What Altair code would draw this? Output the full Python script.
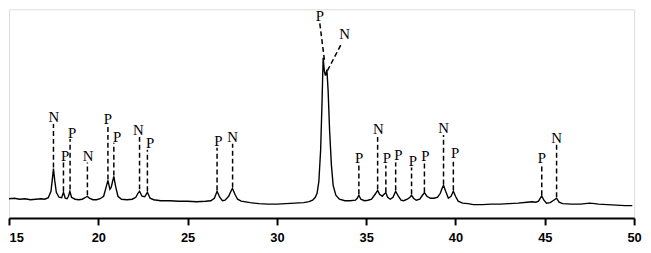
import altair as alt
import pandas as pd

# XRD trace: 2-theta (deg) and intensity (arbitrary units)
two_theta = [15.0, 15.3, 15.6, 15.9, 16.2, 16.5, 16.8, 17.0, 17.2, 17.35, 17.42, 17.49, 17.56, 17.65, 17.8,
             17.95, 18.05, 18.15, 18.25, 18.33, 18.41, 18.5, 18.7, 18.9, 19.1, 19.3, 19.39, 19.5, 19.7, 19.9,
             20.1, 20.3, 20.42, 20.54, 20.65, 20.72, 20.87, 20.97, 21.1, 21.3, 21.6, 21.9, 22.1, 22.22, 22.31,
             22.45, 22.6, 22.75, 22.9, 23.1, 23.5, 24.0, 24.5, 25.0, 25.5, 26.0, 26.3, 26.5, 26.65, 26.8,
             26.95, 27.1, 27.3, 27.4, 27.51, 27.65, 27.8, 28.0, 28.5, 29.0, 29.5, 30.0, 30.5, 31.0, 31.5,
             31.8, 32.0, 32.15, 32.25, 32.35, 32.45, 32.53, 32.59, 32.66, 32.72, 32.80, 32.87, 32.95, 33.05,
             33.15, 33.3, 33.5, 33.8, 34.1, 34.4, 34.5, 34.59, 34.7, 34.9, 35.1, 35.3, 35.5, 35.64, 35.75,
             35.9, 36.0, 36.1, 36.2, 36.35, 36.5, 36.65, 36.8, 36.95, 37.1, 37.3, 37.45, 37.54, 37.65, 37.8,
             38.0, 38.15, 38.26, 38.4, 38.6, 38.8, 39.0, 39.15, 39.25, 39.33, 39.45, 39.6, 39.75, 39.88, 40.0,
             40.15, 40.4, 40.7, 41.0, 41.5, 42.0, 42.5, 43.0, 43.5, 44.0, 44.3, 44.5, 44.65, 44.75, 44.83,
             44.95, 45.1, 45.3, 45.5, 45.66, 45.8, 46.0, 46.5, 47.0, 47.5, 47.8, 48.0, 48.5, 49.0, 49.5, 49.9]
intensity = [19.5, 20, 19, 19.5, 18.5, 19, 19.5, 19, 20.5, 27, 38, 50, 38, 26, 21,
             20.5, 26, 20, 19.5, 22, 27, 21, 19, 18.5, 19, 21, 22, 20, 18.5, 18.5,
             19.5, 22, 30, 38, 29, 31, 42, 32, 22, 19, 18.5, 19, 21, 25, 27,
             22, 21.5, 26, 20, 18.5, 17.5, 17.5, 17, 17, 16.5, 17, 17.5, 20, 27, 21,
             17.5, 18, 22, 26, 30, 24, 19, 17, 15.5, 14.5, 14, 14, 14.5, 15, 15.5,
             16.5, 18, 21, 25, 37, 69, 119, 162, 148, 144, 150, 128, 89, 54,
             33, 23, 19, 17.5, 17.5, 18, 20, 23, 19, 17.5, 18, 19, 24, 28, 24,
             22, 24, 25.7, 21, 19, 21, 27, 22, 18, 17.5, 19, 21, 23, 20, 18,
             19, 23, 25.7, 22, 20, 20, 21, 25, 30, 33, 27, 20, 22, 27, 22,
             17, 15, 14.5, 13.5, 13.5, 14, 14, 14.5, 15, 16, 16.5, 16, 17, 20, 22.3,
             18, 15, 15.5, 18, 20, 16, 14.5, 14, 14, 15, 14.5, 14, 13.5, 13, 12.5, 12.5]

# Peak annotations
peak_pos = [17.49, 18.05, 18.42, 19.39, 20.54, 20.87, 22.31, 22.75, 26.65, 27.52, 34.59, 35.64, 36.10,
            36.65, 37.54, 38.26, 39.33, 39.88, 44.83, 45.66, 32.66, 32.83]
peak_label = ["N", "P", "P", "N", "P", "P", "N", "P", "P", "N", "P", "N", "P",
              "P", "P", "P", "N", "P", "P", "N", "P", "N"]
line_bottom = [51, 27, 29, 23, 39, 43, 29, 27, 28, 31, 24, 29, 26,
               28, 24, 26, 34, 28, 23, 21, 160, 149]
line_top_x = [17.49, 18.05, 18.42, 19.39, 20.54, 20.87, 22.31, 22.75, 26.65, 27.52, 34.59, 35.64, 36.10,
              36.65, 37.54, 38.26, 39.33, 39.88, 44.83, 45.66, 32.40, 33.61]
line_top = [95, 57, 80, 56, 93, 76, 82, 69, 71, 75, 53, 84, 53,
            56, 51, 55, 84, 58, 54, 74, 197, 176]
label_x = [17.51, 18.14, 18.53, 19.43, 20.54, 21.05, 22.25, 22.90, 26.72, 27.52, 34.60, 35.68, 36.16,
           36.80, 37.61, 38.31, 39.33, 39.98, 44.83, 45.66, 32.40, 33.79]
label_y = [102.3, 62.3, 86.3, 63, 99.7, 82.3, 89, 75.7, 78.3, 82.3, 60.3, 90.3, 60.7,
           64, 58, 62.3, 90.7, 65.7, 60.7, 80.7, 204, 185.7]

x_ticks = [15, 20, 25, 30, 35, 40, 45, 50]

trace = pd.DataFrame({"tt": two_theta, "I": intensity})
ann = pd.DataFrame({"peak": peak_pos, "lab": peak_label, "yb": line_bottom,
                    "xt": line_top_x, "yt": line_top, "lx": label_x, "ly": label_y})

xs = alt.Scale(domain=[15, 50], nice=False, zero=False)
ys = alt.Scale(domain=[0, 211], nice=False, zero=False)

xaxis = alt.Axis(values=x_ticks, title=None, grid=False, tickSize=7, tickWidth=2, tickColor="black",
                 domainWidth=2, domainColor="black", labelFont="Liberation Sans", labelFontWeight="bold",
                 labelFontSize=13, labelColor="black", labelPadding=7,
                 labelAlign={"expr": "datum.value == 15 ? 'left' : 'center'"})

line = alt.Chart(trace).mark_line(color="black", strokeWidth=1.4).encode(
    x=alt.X("tt:Q", scale=xs, axis=xaxis),
    y=alt.Y("I:Q", scale=ys, axis=None),
)

rules = alt.Chart(ann).mark_rule(color="black", strokeWidth=1.5, strokeDash=[5, 3]).encode(
    x=alt.X("peak:Q", scale=xs),
    x2="xt:Q",
    y=alt.Y("yb:Q", scale=ys),
    y2="yt:Q",
)

labels = alt.Chart(ann).mark_text(font="Liberation Serif", fontSize=15, color="black",
                                  align="center", baseline="middle").encode(
    x=alt.X("lx:Q", scale=xs),
    y=alt.Y("ly:Q", scale=ys),
    text="lab:N",
)

chart = alt.layer(line, rules, labels).properties(
    width=632, height=211,
    autosize=alt.AutoSizeParams(type="none"),
    padding={"left": 1, "top": 0, "right": 9, "bottom": 30},
).configure_view(stroke=None).configure(background="white")

chart.save("out.html", embed_options={"renderer": "svg", "actions": False})
